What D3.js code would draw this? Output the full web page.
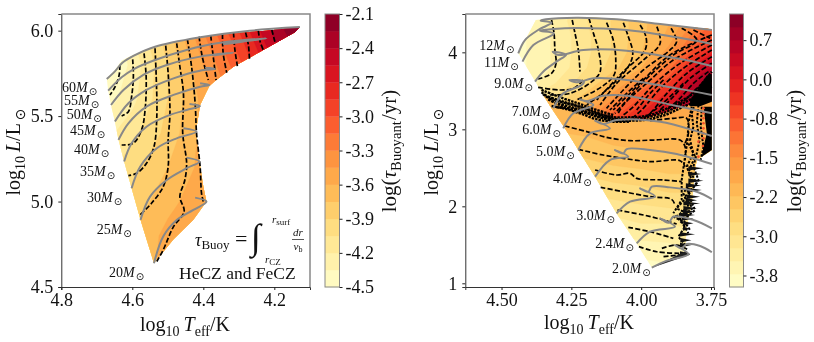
<!DOCTYPE html>
<html><head><meta charset="utf-8">
<script src="https://cdn.jsdelivr.net/npm/d3@7"></script>
<style>
html,body{margin:0;padding:0;background:#fff}
svg{display:block;filter:blur(0.35px)}
text{font-family:"Liberation Serif",serif;fill:#111}
.sym{font-family:"DejaVu Sans",sans-serif}
.it{font-style:italic}
</style></head><body>
<svg id="c" width="814" height="342"></svg>
<script>
// ---------- left panel data ----------
const leftTempGrid=[4.7,4.6,4.5,4.4,4.3,4.2,4.1];
const leftLumGrid=[4.6,4.8,5.0,5.2,5.4,5.6,5.8,6.0,6.1];
const leftTau=[
[-3.8,-3.7,-3.55,-3.45,-3.4,-3.4,-3.4],
[-3.9,-3.75,-3.55,-3.45,-3.4,-3.4,-3.4],
[-4.0,-3.85,-3.65,-3.5,-3.4,-3.4,-3.4],
[-4.15,-3.95,-3.75,-3.55,-3.4,-3.3,-3.3],
[-4.3,-4.1,-3.85,-3.55,-3.3,-3.2,-3.2],
[-4.5,-4.25,-3.9,-3.55,-3.2,-2.9,-2.6],
[-4.7,-4.3,-3.9,-3.45,-3.05,-2.55,-2.2],
[-4.6,-4.2,-3.8,-3.3,-2.85,-2.35,-2.0],
[-4.6,-4.2,-3.8,-3.3,-2.85,-2.35,-2.0]];
const leftOutline=[[4.672,5.721],[4.649,5.770],[4.630,5.825],[4.597,5.858],[4.536,5.906],[4.475,5.932],[4.409,5.961],[4.315,5.984],[4.222,6.0],[4.128,6.021],[4.142,5.990],[4.231,5.887],[4.315,5.789],[4.367,5.706],[4.383,5.676],[4.409,5.565],[4.421,5.409],[4.411,5.234],[4.400,5.088],[4.391,5.0],[4.428,4.893],[4.485,4.776],[4.539,4.639],[4.577,4.893],[4.602,5.078],[4.623,5.234],[4.639,5.361],[4.649,5.468],[4.660,5.565],[4.668,5.649]];
const leftTracks=[
[[4.672,5.717],[4.649,5.762],[4.628,5.812],[4.597,5.852],[4.536,5.906],[4.409,5.961],[4.269,6.0],[4.128,6.021]],
[[4.668,5.649],[4.630,5.727],[4.597,5.774],[4.536,5.828],[4.447,5.887],[4.362,5.926],[4.222,5.955],[4.287,5.936],[4.344,5.920]],
[[4.660,5.565],[4.625,5.653],[4.569,5.741],[4.503,5.799],[4.409,5.848],[4.315,5.871],[4.372,5.854]],
[[4.649,5.468],[4.611,5.575],[4.560,5.653],[4.484,5.721],[4.409,5.766],[4.367,5.776],[4.395,5.784]],
[[4.639,5.361],[4.611,5.458],[4.560,5.556],[4.484,5.624],[4.409,5.672],[4.383,5.682],[4.409,5.692]],
[[4.623,5.234],[4.602,5.341],[4.560,5.438],[4.494,5.507],[4.447,5.536],[4.409,5.559],[4.439,5.571]],
[[4.602,5.078],[4.578,5.204],[4.531,5.312],[4.475,5.370],[4.419,5.409],[4.456,5.429]],
[[4.577,4.893],[4.550,5.029],[4.503,5.126],[4.447,5.195],[4.411,5.234],[4.447,5.257]],
[[4.539,4.639],[4.513,4.795],[4.475,4.892],[4.428,4.951],[4.391,5.0],[4.423,5.023]]];
const leftDashed=[
[[4.635,5.799],[4.637,5.741],[4.649,5.669],[4.663,5.624]],
[[4.599,5.832],[4.597,5.731],[4.602,5.614],[4.611,5.526],[4.630,5.501]],
[[4.567,5.867],[4.561,5.731],[4.564,5.536],[4.574,5.419],[4.597,5.341],[4.630,5.331]],
[[4.536,5.897],[4.533,5.750],[4.531,5.497],[4.539,5.321],[4.560,5.224],[4.588,5.165],[4.611,5.152]],
[[4.506,5.912],[4.499,5.750],[4.494,5.516],[4.499,5.360],[4.499,5.204],[4.513,5.087],[4.546,4.990],[4.578,4.922]],
[[4.475,5.926],[4.466,5.789],[4.456,5.633],[4.458,5.399],[4.447,5.224],[4.452,5.126],[4.466,5.029],[4.454,4.941],[4.484,4.853],[4.513,4.717],[4.531,4.649]],
[[4.445,5.949],[4.433,5.789],[4.423,5.575],[4.419,5.399],[4.409,5.204],[4.405,5.048],[4.400,5.0]],
[[4.412,5.965],[4.403,5.848],[4.386,5.711]],
[[4.379,5.969],[4.372,5.848],[4.364,5.711]],
[[4.346,5.979],[4.344,5.867],[4.334,5.754]],
[[4.315,5.988],[4.311,5.887],[4.304,5.793]],
[[4.281,5.990],[4.273,5.916],[4.270,5.832]],
[[4.245,6.0],[4.240,5.936],[4.231,5.887]],
[[4.207,6.004],[4.198,5.932]]];
const leftMasses=["60","55","50","45","40","35","30","25","20"];
const leftColorTicks=["-2.1","-2.4","-2.7","-3.0","-3.3","-3.6","-3.9","-4.2","-4.5"];
const leftColorTickValues=[-2.1,-2.4,-2.7,-3.0,-3.3,-3.6,-3.9,-4.2,-4.5];
const leftXTicks=[4.8,4.6,4.4,4.2];
const leftYTicks=[4.5,5.0,5.5,6.0];

// ---------- right panel data ----------
const rightTempGrid=[4.5,4.4,4.3,4.2,4.1,4.0,3.9,3.8,3.7];
const upperLumGrid=[3.0,3.2,3.4,3.6,3.8,4.0,4.2,4.4,4.6];
const upperTau=[
[-3.0,-2.7,-2.3,-1.4,-0.5,0.1,0.5,1.0,1.1],
[-3.2,-2.9,-2.6,-1.8,-0.9,-0.2,0.3,0.9,1.1],
[-3.5,-3.2,-2.9,-2.3,-1.5,-0.7,0.0,0.8,1.0],
[-3.8,-3.6,-3.2,-2.8,-2.1,-1.3,-0.5,0.7,1.0],
[-3.9,-3.7,-3.4,-3.0,-2.6,-2.0,-1.1,0.2,0.8],
[-3.9,-3.7,-3.4,-3.05,-2.7,-2.25,-1.6,-0.5,0.3],
[-3.9,-3.7,-3.4,-3.05,-2.7,-2.3,-1.9,-1.0,-0.3],
[-3.9,-3.7,-3.35,-3.0,-2.7,-2.3,-2.0,-1.4,-0.7],
[-3.9,-3.7,-3.35,-3.0,-2.7,-2.3,-2.0,-1.4,-0.7]];
const lowerLumGrid=[1.0,1.4,1.8,2.2,2.6,3.0,3.4];
const lowerTau=[
[-4.0,-4.0,-4.0,-4.0,-4.0,-4.0,-3.95,-3.9,-3.9],
[-3.8,-3.8,-3.8,-3.75,-3.7,-3.65,-3.6,-3.5,-3.5],
[-3.4,-3.4,-3.4,-3.35,-3.3,-3.2,-3.2,-3.1,-3.1],
[-3.0,-3.0,-3.0,-2.95,-2.85,-2.8,-2.7,-2.7,-2.7],
[-2.6,-2.6,-2.55,-2.5,-2.4,-2.35,-2.3,-2.3,-2.3],
[-2.25,-2.25,-2.2,-2.15,-2.05,-2.0,-2.0,-2.0,-2.0],
[-2.2,-2.2,-2.15,-2.1,-2.0,-1.95,-1.95,-1.95,-1.95]];
const upperOutline=[[4.440,3.987],[4.377,4.420],[4.327,4.433],[4.231,4.455],[4.112,4.442],[3.992,4.385],[3.873,4.342],[3.747,4.299],[3.747,3.359],[3.813,3.337],[3.885,3.251],[3.992,3.130],[4.124,3.143],[4.231,3.251],[4.315,3.359],[4.351,3.446],[4.375,3.597]];
const lowerOutline=[[4.351,3.446],[4.315,3.359],[4.231,3.251],[4.124,3.143],[3.992,3.130],[3.885,3.251],[3.813,3.337],[3.747,3.359],[3.747,2.731],[3.783,2.645],[3.801,2.601],[3.807,2.471],[3.819,2.038],[3.837,1.735],[3.843,1.389],[3.962,1.203],[4.016,1.518],[4.088,1.908],[4.165,2.385],[4.225,2.731],[4.273,3.013],[4.321,3.273]];
const rightTracks=[
[[4.440,3.987],[4.416,4.160],[4.369,4.290],[4.321,4.385],[4.360,4.411],[4.341,4.429],[4.231,4.450],[4.088,4.429],[3.932,4.368],[3.747,4.290]],
[[4.425,3.879],[4.386,4.095],[4.312,4.247],[4.363,4.281],[4.315,4.303],[4.231,4.316],[4.052,4.290],[3.873,4.195],[3.747,4.108]],
[[4.380,3.619],[4.351,3.749],[4.291,3.909],[4.269,3.965],[4.317,4.009],[4.297,3.965],[4.207,4.030],[4.052,4.022],[3.873,3.922],[3.747,3.822]],
[[4.315,3.273],[4.279,3.467],[4.213,3.576],[4.205,3.619],[4.257,3.641],[4.231,3.610],[4.171,3.662],[4.052,3.641],[3.873,3.532],[3.747,3.446]],
[[4.279,3.013],[4.243,3.208],[4.171,3.316],[4.219,3.389],[4.195,3.368],[4.136,3.437],[4.052,3.437],[3.873,3.303],[3.747,3.208]],
[[4.225,2.731],[4.183,2.948],[4.112,3.013],[4.165,3.112],[4.136,3.069],[4.088,3.121],[3.932,3.099],[3.747,2.913]],
[[4.165,2.385],[4.112,2.601],[4.046,2.645],[4.094,2.731],[4.064,2.688],[4.052,2.744],[3.968,2.731],[3.873,2.679],[3.747,2.549]],
[[4.088,1.908],[4.040,2.060],[3.950,2.125],[4.004,2.233],[3.974,2.190],[3.962,2.255],[3.897,2.246],[3.801,2.190],[3.747,2.094]],
[[4.016,1.518],[3.968,1.670],[3.879,1.735],[3.932,1.843],[3.902,1.787],[3.885,1.865],[3.813,1.822],[3.747,1.714]],
[[3.962,1.203],[3.908,1.294],[3.831,1.380],[3.879,1.497],[3.855,1.454],[3.837,1.510],[3.789,1.484],[3.747,1.403]]];
const rightDashed=[
[[4.321,4.420],[4.312,4.247],[4.309,4.030],[4.305,3.857],[4.321,3.727],[4.369,3.654]],
[[4.247,4.420],[4.237,4.247],[4.225,4.030],[4.219,3.749]],
[[4.369,3.545],[4.291,3.511],[4.243,3.532],[4.207,3.641]],
[[4.187,4.442],[4.171,4.247],[4.153,4.030],[4.147,3.749],[4.177,3.619],[4.255,3.467],[4.327,3.446]],
[[4.124,4.385],[4.100,4.160],[4.091,3.900],[4.097,3.706],[4.141,3.554],[4.231,3.381]],
[[4.064,4.385],[4.046,4.204],[4.030,3.987],[4.046,3.814],[4.124,3.511],[4.195,3.316]],
[[4.004,4.355],[3.983,4.204],[3.986,4.030],[4.064,3.749],[4.159,3.381]],
[[3.944,4.333],[3.932,4.117],[3.992,3.900],[4.088,3.597],[4.147,3.316]],
[[3.893,4.312],[3.873,4.139],[3.897,4.030],[3.992,3.771],[4.064,3.511],[4.124,3.273]],
[[3.855,4.312],[3.801,4.160],[3.885,3.965],[3.980,3.662],[4.040,3.424],[4.094,3.208]],
[[3.813,4.290],[3.753,4.182]],
[[3.747,4.225],[3.897,3.965],[4.004,3.597],[4.100,3.251]],
[[3.747,4.160],[3.885,3.900],[3.974,3.619],[4.064,3.316],[4.082,3.208]],
[[3.747,4.095],[3.861,3.857],[3.956,3.576],[4.028,3.294],[4.064,3.186]],
[[3.747,4.030],[3.849,3.792],[3.932,3.532],[3.998,3.251],[4.034,3.143]],
[[3.747,3.944],[3.837,3.727],[3.908,3.467],[3.968,3.208],[3.998,3.130]],
[[3.747,3.857],[3.825,3.662],[3.885,3.424],[3.938,3.229]],
[[3.759,3.749],[3.813,3.597],[3.861,3.403],[3.908,3.251]],
[[3.759,3.662],[3.801,3.532],[3.843,3.381],[3.885,3.273]],
[[3.849,3.597],[3.897,3.424],[3.944,3.273],[3.974,3.186]],
[[3.920,3.641],[3.968,3.467],[4.016,3.251]],
[[3.992,3.662],[4.052,3.467],[4.112,3.251]],
[[4.273,3.043],[4.195,2.970],[4.124,2.896],[4.040,2.853],[3.956,2.861],[3.861,2.861],[3.843,2.775],[3.843,2.601]],
[[4.225,2.740],[4.136,2.666],[4.064,2.623],[3.968,2.580],[3.861,2.593],[3.843,2.515]],
[[4.165,2.471],[4.088,2.407],[4.040,2.428],[4.016,2.363],[3.920,2.342],[3.855,2.320]],
[[4.145,2.246],[4.064,2.190],[3.968,2.125],[3.891,2.090],[3.879,2.017]],
[[4.085,1.952],[3.992,1.887],[3.920,1.822],[3.873,1.770]],
[[4.046,1.727],[3.968,1.670],[3.885,1.584]],
[[4.008,1.476],[3.944,1.410],[3.861,1.389]],
[[3.926,1.454],[3.873,1.497],[3.831,1.432]],
[[3.920,1.346],[3.831,1.380]],
[[3.968,3.112],[3.885,3.143],[3.837,3.143],[3.831,2.948],[3.843,2.818]]];
const rightScribbles=[
[[3.807,3.337],[3.819,3.208],[3.813,3.034],[3.825,2.861],[3.813,2.688],[3.837,2.515],[3.819,2.342],[3.849,2.168],[3.831,1.995],[3.873,1.865],[3.843,1.735],[3.867,1.605],[3.837,1.476]],
[[3.795,3.316],[3.801,3.078],[3.791,2.861],[3.801,2.688],[3.813,2.515],[3.795,2.342],[3.831,2.147],[3.807,1.952],[3.849,1.822],[3.825,1.692]],
[[3.819,3.294],[3.831,3.078],[3.834,2.861],[3.843,2.645],[3.855,2.342],[3.855,2.082],[3.885,1.909]],
[[3.783,3.294],[3.787,3.034],[3.777,2.775],[3.787,2.601]],
[[3.831,2.818],[3.807,2.645],[3.828,2.471],[3.801,2.298],[3.843,2.125],[3.816,1.974],[3.861,1.843],[3.831,1.649]],
[[3.846,2.082],[3.873,1.974],[3.837,1.909],[3.885,1.865],[3.849,1.800]]];
const arcBands=[
[[4.357,3.480],[4.315,3.389],[4.243,3.316],[4.183,3.251],[4.112,3.164],[4.040,3.156],[3.980,3.177],[3.920,3.251],[3.861,3.359],[3.813,3.467],[3.777,3.619],[3.747,3.749]],
[[4.351,3.454],[4.309,3.359],[4.243,3.281],[4.183,3.216],[4.112,3.143],[4.040,3.134],[3.980,3.156],[3.914,3.221],[3.855,3.329],[3.801,3.446],[3.765,3.597],[3.747,3.641]],
[[4.333,3.389],[4.291,3.316],[4.243,3.251],[4.171,3.186],[4.112,3.121],[4.040,3.112],[3.974,3.130],[3.908,3.195],[3.849,3.294],[3.795,3.381],[3.759,3.532],[3.747,3.554]],
[[4.357,3.511],[4.279,3.402],[4.219,3.329],[4.159,3.251],[4.100,3.186]],
[[4.333,3.424],[4.279,3.359],[4.219,3.294],[4.159,3.208],[4.100,3.156]],
[[4.321,3.303],[4.279,3.273],[4.219,3.208],[4.159,3.130],[4.100,3.099],[4.040,3.099]],
[[4.303,3.286],[4.219,3.251],[4.159,3.164],[4.088,3.130]]];
const blackBlob=[[3.825,3.380],[3.790,3.560],[3.765,3.700],[3.747,3.720],[3.747,3.359],[3.789,3.300],[3.825,3.300]];
const blackStrip=[[3.777,3.294],[3.747,3.294],[3.747,2.731],[3.783,2.645],[3.777,2.775],[3.765,2.948]];
const redDots=[[3.777,3.273],[3.777,3.208],[3.777,3.143],[3.777,3.078],[3.777,3.013],[3.777,2.948],[3.777,2.883],[3.795,2.840],[3.779,2.783],[3.795,2.645]];
const spikes=[[3.831,2.493,3.777],[3.831,2.420,3.785],[3.831,2.333,3.777],[3.840,2.270,3.785],[3.837,2.212,3.783],[3.837,2.125,3.789],[3.840,2.080,3.800],[3.849,2.038,3.789],[3.849,1.974,3.801],[3.850,1.930,3.805],[3.861,1.887,3.807],[3.855,1.840,3.812],[3.849,1.779,3.813],[3.850,1.710,3.825],[3.861,1.636,3.807],[3.860,1.560,3.820],[3.861,1.497,3.819],[3.861,1.389,3.825]];
const lastWedge=[[3.962,1.203],[3.840,1.420],[3.825,1.370]];
const rightMasses=["12","11","9.0","7.0","6.0","5.0","4.0","3.0","2.4","2.0"];
const rightColorTicks=["0.7","0.0","-0.8","-1.5","-2.2","-3.0","-3.8"];
const rightColorTickValues=[0.75,0,-0.75,-1.5,-2.25,-3,-3.75];
const rightXTicks=[4.5,4.25,4.0,3.75];
const rightYTicks=[1,2,3,4];

// ---------- layout ----------
const svg=d3.select("#c");
const L={x:[61.3,310],y:[14,287],cb:[325,339.5],dom:[[4.8,4.0995],[4.5,6.0975]],c:[-4.5,-2.1],n:16};
const R={x:[465.3,714],y:[14,287],cb:[729.5,743.5],dom:[[4.6297,3.7393],[0.952,4.498]],c:[-3.97,1.25],n:21};
const leftLabelPos=[[62,93.3],[64,105.7],[66.7,120],[70,135.7],[74,155],[80,176.7],[87,202.7],[96.7,235],[109,278]];
const rightLabelPos=[[479.3,51],[484,67.7],[494.3,89],[511.7,117.3],[522.3,135],[536,156.7],[553,184.3],[576.3,220.7],[595.3,249.3],[612,274]];
let clipId=0;

function scales(P){return{x:d3.scaleLinear().domain(P.dom[0]).range(P.x),y:d3.scaleLinear().domain(P.dom[1]).range([P.y[1],P.y[0]])}}
function bands(P){const st=(P.c[1]-P.c[0])/P.n;return d3.range(P.n).map(i=>({lo:P.c[0]+i*st,hi:P.c[0]+(i+1)*st,col:d3.interpolateYlOrRd((i+.5)/P.n)}))}

function field(g,P,s,Ts,Ls,vals,outline){
  const id="clip"+(clipId++);
  const lineC=d3.line().x(d=>s.x(d[0])).y(d=>s.y(d[1]));
  svg.append("clipPath").attr("id",id).append("path").attr("d",lineC(outline)+"Z");
  const nx=Ts.length,ny=Ls.length,dT=Ts[1]-Ts[0],dL=Ls[1]-Ls[0];
  const b=bands(P);
  const thr=b.map((d,i)=>i==0?-100:d.lo);
  const cs=d3.contours().size([nx,ny]).thresholds(thr)(vals.flat());
  const path=d3.geoPath(d3.geoTransform({point(px,py){
    this.stream.point(s.x(Ts[0]+(px-.5)*dT),s.y(Ls[0]+(py-.5)*dL));}}));
  g.append("g").attr("clip-path",`url(#${id})`).selectAll("path").data(cs).join("path")
    .attr("d",path).attr("fill",(d,i)=>b[i].col).attr("stroke",(d,i)=>b[i].col).attr("stroke-width",.3);
}
function lines(g,s,data,stroke,w,dash,curve){
  const ln=d3.line().x(d=>s.x(d[0])).y(d=>s.y(d[1])).curve(curve||d3.curveLinear);
  g.append("g").selectAll("path").data(data).join("path").attr("d",ln).attr("fill","none")
   .attr("stroke",stroke).attr("stroke-width",w).attr("stroke-dasharray",dash).attr("stroke-linejoin","round");
}
function axes(g,P,s,xt,yt,xf,yf){
  const ax=g.append("g").attr("transform",`translate(0,${P.y[1]})`).call(d3.axisBottom(s.x).tickValues(xt).tickFormat(xf).tickSize(3).tickPadding(3));
  const ay=g.append("g").attr("transform",`translate(${P.x[0]},0)`).call(d3.axisLeft(s.y).tickValues(yt).tickFormat(yf).tickSize(3).tickPadding(5));
  [ax,ay].forEach(a=>{a.selectAll("text").attr("font-size",18).style("font-family",'"Liberation Serif",serif').attr("fill","#111");
    a.selectAll("line").attr("stroke","#222");a.select(".domain").attr("stroke","#333").attr("stroke-width",1)});
  g.append("path").attr("d",`M${P.x[0]},${P.y[0]}H${P.x[1]}V${P.y[1]}`).attr("fill","none").attr("stroke","#888").attr("stroke-width",1.5);
}
function colorbar(g,P,vals,labs){
  const c=d3.scaleLinear().domain(P.c).range([P.y[1],P.y[0]]);
  g.append("g").selectAll("rect").data(bands(P)).join("rect").attr("x",P.cb[0]).attr("width",P.cb[1]-P.cb[0])
    .attr("y",d=>c(d.hi)).attr("height",d=>c(d.lo)-c(d.hi)+.3).attr("fill",d=>d.col);
  g.append("rect").attr("x",P.cb[0]).attr("y",P.y[0]).attr("width",P.cb[1]-P.cb[0]).attr("height",P.y[1]-P.y[0]).attr("fill","none").attr("stroke","#888").attr("stroke-width",1);
  const a=g.append("g").attr("transform",`translate(${P.cb[1]},0)`).call(d3.axisRight(c).tickValues(vals).tickFormat((d,i)=>labs[i]).tickSize(3).tickPadding(3));
  a.select(".domain").remove();a.selectAll("line").attr("stroke","#222");
  a.selectAll("text").attr("font-size",18).style("font-family",'"Liberation Serif",serif').attr("fill","#111");
}
function massLabels(g,masses,pos){
  masses.forEach((m,i)=>{
    const t=g.append("text").attr("x",pos[i][0]).attr("y",pos[i][1]-1).attr("font-size",14);
    t.append("tspan").text(m);
    t.append("tspan").attr("class","it").text("M");
    t.append("tspan").attr("class","sym").attr("font-size",10).attr("dy",3).attr("dx",1).text("\u2299");
  });
}
function mathLabel(g,x,y,rot,parts,size){
  const t=g.append("text").attr("transform",`translate(${x},${y}) rotate(${rot})`).attr("text-anchor","middle").attr("font-size",size);
  let prev=0;
  parts.forEach(p=>{
    const sp=t.append("tspan").text(p.t);
    const lvl=p.sub?size*.25:0;
    sp.attr("dy",lvl-prev);prev=lvl;
    if(p.sub)sp.attr("font-size",size*.7);
    if(p.it)sp.attr("class","it");
    if(p.sym)sp.attr("class","sym");
    if(p.dx)sp.attr("dx",p.dx);
  });
}
const xLabelParts=[{t:"log"},{t:"10",sub:1},{t:"T",it:1,dx:4},{t:"eff",sub:1},{t:"/K"}];
const yLabelParts=[{t:"log"},{t:"10",sub:1},{t:"L",it:1,dx:4},{t:"/L"},{t:"\u2299",sub:1,sym:1,dx:3}];
const cLabelParts=[{t:"log("},{t:"\u03C4",it:1},{t:"Buoyant",sub:1},{t:"/yr)",dx:1}];
const dashPattern="5,2.2";

// ---------- left panel ----------
{
  const s=scales(L),g=svg.append("g");
  field(g,L,s,leftTempGrid,leftLumGrid,leftTau,leftOutline);
  lines(g,s,leftDashed,"#000",1.7,dashPattern,d3.curveCatmullRom);
  lines(g,s,leftTracks,"#888",2,null,d3.curveCatmullRom.alpha(.5));
  axes(g,L,s,leftXTicks,leftYTicks,d3.format(".1f"),d3.format(".1f"));
  colorbar(g,L,leftColorTickValues,leftColorTicks);
  massLabels(g,leftMasses,leftLabelPos);
  mathLabel(g,185,331,0,xLabelParts,20);
  mathLabel(g,20,152,-90,yLabelParts,20);
  mathLabel(g,396,151,-90,cLabelParts,21);
  // formula
  const f=g.append("g");
  const t=f.append("text").attr("x",195).attr("y",246).attr("font-size",18);
  t.append("tspan").attr("class","it").text("\u03C4");
  t.append("tspan").attr("font-size",13).attr("dy",3).text("Buoy");
  f.append("text").attr("x",235).attr("y",246).attr("font-size",22).text("=");
  f.append("text").attr("x",251).attr("y",249).attr("font-size",36).text("\u222B");
  f.append("text").attr("x",272).attr("y",223).attr("font-size",11).html('<tspan class="it">r</tspan><tspan font-size="9" dy="2">surf</tspan>');
  f.append("text").attr("x",265).attr("y",263).attr("font-size",11).html('<tspan class="it">r</tspan><tspan font-size="9" dy="2">CZ</tspan>');
  f.append("text").attr("x",298).attr("y",236).attr("font-size",11).attr("text-anchor","middle").attr("class","it").text("dr");
  f.append("line").attr("x1",292).attr("x2",304).attr("y1",239.5).attr("y2",239.5).attr("stroke","#111").attr("stroke-width",.7);
  f.append("text").attr("x",298).attr("y",250).attr("font-size",11).attr("text-anchor","middle").html('<tspan class="it">v</tspan><tspan font-size="8" dy="2">b</tspan>');
  f.append("text").attr("x",179).attr("y",279).attr("font-size",17.5).text("HeCZ and FeCZ");
}
// ---------- right panel ----------
{
  const s=scales(R),g=svg.append("g");
  field(g,R,s,rightTempGrid,upperLumGrid,upperTau,upperOutline);
  field(g,R,s,rightTempGrid,lowerLumGrid,lowerTau,lowerOutline);
  const poly=d3.line().x(d=>s.x(d[0])).y(d=>s.y(d[1]));
  g.append("path").attr("d",poly(blackBlob)+"Z").attr("fill","#000");
  g.append("path").attr("d",poly(blackStrip)+"Z").attr("fill","#000");
  lines(g,s,rightDashed,"#000",1.7,dashPattern,d3.curveCatmullRom);
  lines(g,s,arcBands,"#000",2.4,"2.5,1",d3.curveCatmullRom);
  lines(g,s,rightScribbles,"#000",2,"2.5,1.5");
  g.append("g").selectAll("path").data(spikes).join("path")
    .attr("d",d=>`M${s.x(d[0])},${s.y(d[1])-2.2}L${s.x(d[2])},${s.y(d[1])}L${s.x(d[0])},${s.y(d[1])+2.2}Z`).attr("fill","#111");
  g.append("path").attr("d",poly(lastWedge)+"Z").attr("fill","#222");
  g.append("g").selectAll("circle").data(redDots).join("circle").attr("cx",d=>s.x(d[0])).attr("cy",d=>s.y(d[1])).attr("r",1.3).attr("fill","#f4502a");
  lines(g,s,rightTracks,"#888",2,null,d3.curveCatmullRom.alpha(.5));
  axes(g,R,s,rightXTicks,rightYTicks,d3.format(".2f"),d3.format("d"));
  colorbar(g,R,rightColorTickValues,rightColorTicks);
  massLabels(g,rightMasses,rightLabelPos);
  mathLabel(g,589,329,0,xLabelParts,20);
  mathLabel(g,438,152,-90,yLabelParts,20);
  mathLabel(g,801,151,-90,cLabelParts,21);
}
</script></body></html>
